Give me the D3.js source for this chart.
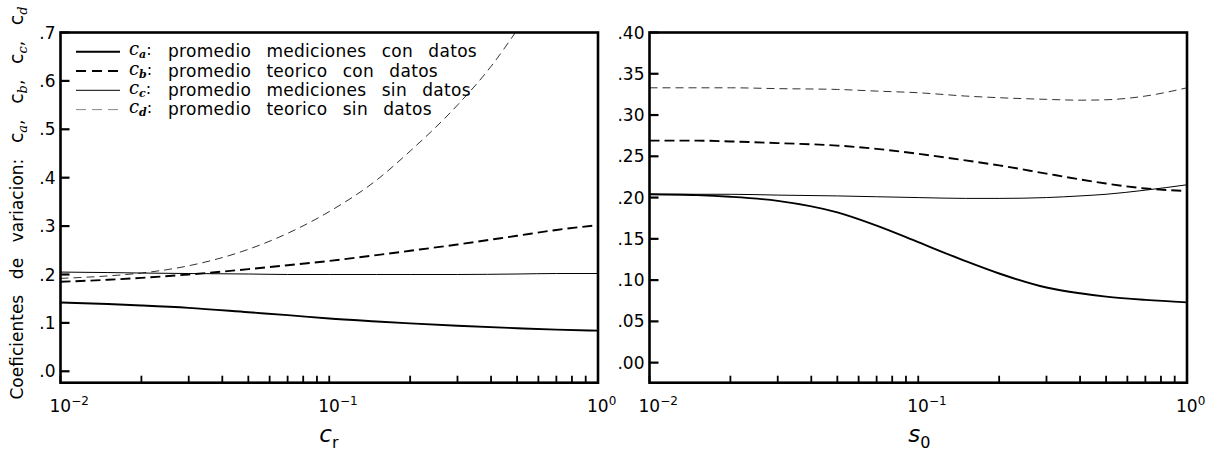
<!DOCTYPE html>
<html>
<head>
<meta charset="utf-8">
<script src="https://cdn.jsdelivr.net/npm/d3@7"></script>
<style>
  html, body { margin: 0; padding: 0; background: #fff; }
  svg { display: block; }
  text { font-family: "DejaVu Sans", sans-serif; fill: #000; }
</style>
</head>
<body>
<svg id="chart" width="1212" height="451"></svg>
<script>
// ---- data -----------------------------------------------------------
// left panel: coefficients of variation versus c_r
const crValues = [0.01, 0.015, 0.02, 0.03, 0.05, 0.07, 0.1, 0.15, 0.2, 0.3, 0.5, 0.7, 1.0];
const caLeft   = [0.142, 0.139, 0.136, 0.131, 0.122, 0.116, 0.109, 0.103, 0.099, 0.094, 0.089, 0.086, 0.084];
const cbLeft   = [0.185, 0.189, 0.193, 0.200, 0.211, 0.219, 0.228, 0.240, 0.249, 0.262, 0.280, 0.292, 0.302];
const ccLeft   = [0.205, 0.204, 0.203, 0.202, 0.201, 0.200, 0.200, 0.200, 0.200, 0.200, 0.201, 0.202, 0.202];
const cdXs     = [0.01, 0.015, 0.02, 0.03, 0.05, 0.07, 0.1, 0.15, 0.2, 0.3, 0.4, 0.5];
const cdLeft   = [0.192, 0.197, 0.203, 0.218, 0.252, 0.285, 0.330, 0.395, 0.455, 0.550, 0.630, 0.705];

// right panel: coefficients of variation versus s_0
const s0Values = [0.01, 0.015, 0.02, 0.03, 0.05, 0.07, 0.1, 0.15, 0.2, 0.3, 0.4, 0.5, 0.7, 1.0];
const caRight  = [0.204, 0.203, 0.201, 0.196, 0.182, 0.166, 0.146, 0.123, 0.108, 0.091, 0.084, 0.080, 0.076, 0.073];
const cbRight  = [0.269, 0.269, 0.268, 0.266, 0.263, 0.259, 0.253, 0.245, 0.239, 0.229, 0.222, 0.217, 0.211, 0.208];
const ccRight  = [0.204, 0.204, 0.204, 0.203, 0.202, 0.201, 0.200, 0.199, 0.199, 0.200, 0.202, 0.204, 0.209, 0.2155];
const cdRight  = [0.333, 0.333, 0.333, 0.332, 0.331, 0.329, 0.327, 0.323, 0.321, 0.319, 0.318, 0.3185, 0.323, 0.333];

// axis ticks
const leftYTicks   = [0, 0.1, 0.2, 0.3, 0.4, 0.5, 0.6, 0.7];
const leftYLabels  = [".0", ".1", ".2", ".3", ".4", ".5", ".6", ".7"];
const rightYTicks  = [0, 0.05, 0.10, 0.15, 0.20, 0.25, 0.30, 0.35, 0.40];
const rightYLabels = [".00", ".05", ".10", ".15", ".20", ".25", ".30", ".35", ".40"];
const decadeTicks  = [0.01, 0.1, 1];
const decadeExps   = ["\u22122", "\u22121", "0"];

// legend entries
const legendKeys  = ["a", "b", "c", "d"];
const legendTexts = ["promedio mediciones con datos", "promedio teorico con datos",
                     "promedio mediciones sin datos", "promedio teorico sin datos"];
const yTitleText  = "Coeficientes de variacion:";

// ---- styles per series ----------------------------------------------
const seriesStyle = {
  a: { stroke: "#000", width: 1.9, dash: null },
  b: { stroke: "#000", width: 1.9, dash: "10,5" },
  c: { stroke: "#000", width: 1.0, dash: null },
  d: { stroke: "#333", width: 1.0, dash: "8,5" }
};

const svg = d3.select("#chart");

// minor ticks 2..9 within each decade
const minorTicks = [];
[0.01, 0.1].forEach(d => { for (let k = 1; k <= 9; k++) minorTicks.push(d * k); });
minorTicks.push(1);

// widen the gaps between words so a text element spans the given length
function spreadWords(sel, target) {
  const node = sel.node();
  const len = node.getComputedTextLength();
  const gaps = (node.textContent.match(/ /g) || []).length;
  if (gaps > 0) sel.attr("word-spacing", Math.max(0, (target - len) / gaps));
}

function drawPanel(opts) {
  const { x0, x1, yTop, yBottom, yDomain, yTicks, yLabels, series, xTitle, xSub } = opts;
  const x = d3.scaleLog().domain([0.01, 1]).range([x0, x1]);
  const y = d3.scaleLinear().domain(yDomain).range([yBottom, yTop]);
  const g = svg.append("g");

  const clipId = "clip" + Math.round(x0);
  svg.append("clipPath").attr("id", clipId)
    .append("rect").attr("x", x0).attr("y", yTop).attr("width", x1 - x0).attr("height", yBottom - yTop);

  // curves
  const line = d3.line().x(d => x(d[0])).y(d => y(d[1])).curve(d3.curveMonotoneX);
  const plot = g.append("g").attr("clip-path", `url(#${clipId})`);
  series.forEach(s => {
    const st = seriesStyle[s.key];
    plot.append("path")
      .datum(s.xs.map((v, i) => [v, s.ys[i]]))
      .attr("d", line)
      .attr("fill", "none")
      .attr("stroke", st.stroke)
      .attr("stroke-width", st.width)
      .attr("stroke-dasharray", st.dash);
  });

  // y ticks (inward) and labels
  yTicks.forEach((t, i) => {
    g.append("line").attr("x1", x0).attr("x2", x0 + 9)
      .attr("y1", y(t)).attr("y2", y(t))
      .attr("stroke", "#000").attr("stroke-width", 2.2);
    g.append("text").attr("x", x0 - 5).attr("y", y(t)).attr("dy", "0.36em")
      .attr("text-anchor", "end").attr("font-size", 17).text(yLabels[i]);
  });

  // x ticks (inward from bottom)
  minorTicks.forEach(t => {
    g.append("line").attr("x1", x(t)).attr("x2", x(t))
      .attr("y1", yBottom).attr("y2", yBottom - 7)
      .attr("stroke", "#000").attr("stroke-width", 1.8);
  });
  decadeTicks.forEach((t, i) => {
    const tx = g.append("text").attr("x", x(t) - 11).attr("y", 412).attr("font-size", 17);
    tx.append("tspan").text("10");
    tx.append("tspan").attr("dy", -7).attr("font-size", 12).text(decadeExps[i]);
  });

  // frame
  g.append("rect").attr("x", x0).attr("y", yTop)
    .attr("width", x1 - x0).attr("height", yBottom - yTop)
    .attr("fill", "none").attr("stroke", "#000").attr("stroke-width", 2.6);

  // x title
  const cx = (x0 + x1) / 2;
  const tt = g.append("text").attr("x", cx - 10).attr("y", 442).attr("font-size", 23);
  tt.append("tspan").attr("font-style", "italic").text(xTitle);
  tt.append("tspan").attr("dy", 6).attr("font-size", 16).text(xSub);

  return { x, y };
}

// left panel
drawPanel({
  x0: 60.5, x1: 598, yTop: 32.5, yBottom: 382.7,
  yDomain: [-0.0236, 0.7], yTicks: leftYTicks, yLabels: leftYLabels,
  xTitle: "c", xSub: "r",
  series: [
    { key: "d", xs: cdXs, ys: cdLeft },
    { key: "c", xs: crValues, ys: ccLeft },
    { key: "b", xs: crValues, ys: cbLeft },
    { key: "a", xs: crValues, ys: caLeft }
  ]
});

// right panel
drawPanel({
  x0: 649.5, x1: 1187, yTop: 32.5, yBottom: 382.7,
  yDomain: [-0.0243, 0.4], yTicks: rightYTicks, yLabels: rightYLabels,
  xTitle: "s", xSub: "0",
  series: [
    { key: "d", xs: s0Values, ys: cdRight },
    { key: "c", xs: s0Values, ys: ccRight },
    { key: "b", xs: s0Values, ys: cbRight },
    { key: "a", xs: s0Values, ys: caRight }
  ]
});

// legend inside the left panel
const legend = svg.append("g");
let legendWordSpacing = null;
legendKeys.forEach((k, i) => {
  const ly = 51.7 + i * 19.3;
  const st = seriesStyle[k];
  legend.append("line").attr("x1", 76).attr("x2", 120).attr("y1", ly).attr("y2", ly)
    .attr("stroke", k === "d" ? "#888" : st.stroke)
    .attr("stroke-width", st.width)
    .attr("stroke-dasharray", k === "b" || k === "d" ? "10,6" : null);
  const t = legend.append("text").attr("x", 129).attr("y", ly + 3.5).attr("font-size", 16);
  t.append("tspan").attr("font-family", "DejaVu Serif").attr("font-style", "italic")
    .attr("font-size", 18).text("c");
  t.append("tspan").attr("dy", 3).attr("font-family", "DejaVu Serif")
    .attr("font-style", "italic").attr("font-weight", "bold").attr("font-size", 11).text(k);
  t.append("tspan").attr("dy", -3).text(":");
  const lt = legend.append("text").attr("x", 168).attr("y", ly + 5.5).attr("font-size", 17)
    .attr("letter-spacing", 0.3).text(legendTexts[i]);
  if (legendWordSpacing === null) {
    spreadWords(lt, 309);
    legendWordSpacing = lt.attr("word-spacing");
  } else {
    lt.attr("word-spacing", legendWordSpacing);
  }
});

// rotated y-axis title
const yt = svg.append("text")
  .attr("transform", "translate(23,203) rotate(-90)")
  .attr("text-anchor", "middle").attr("font-size", 17);
yt.append("tspan").text(yTitleText + " ");
legendKeys.forEach((k, i) => {
  yt.append("tspan").attr("font-size", 19).text("c");
  yt.append("tspan").attr("dy", 4).attr("font-family", "DejaVu Serif")
    .attr("font-style", "italic").attr("font-size", 13).text(k);
  yt.append("tspan").attr("dy", -4).text(i < legendKeys.length - 1 ? ", " : "");
});
spreadWords(yt, 393);
</script>
</body>
</html>
